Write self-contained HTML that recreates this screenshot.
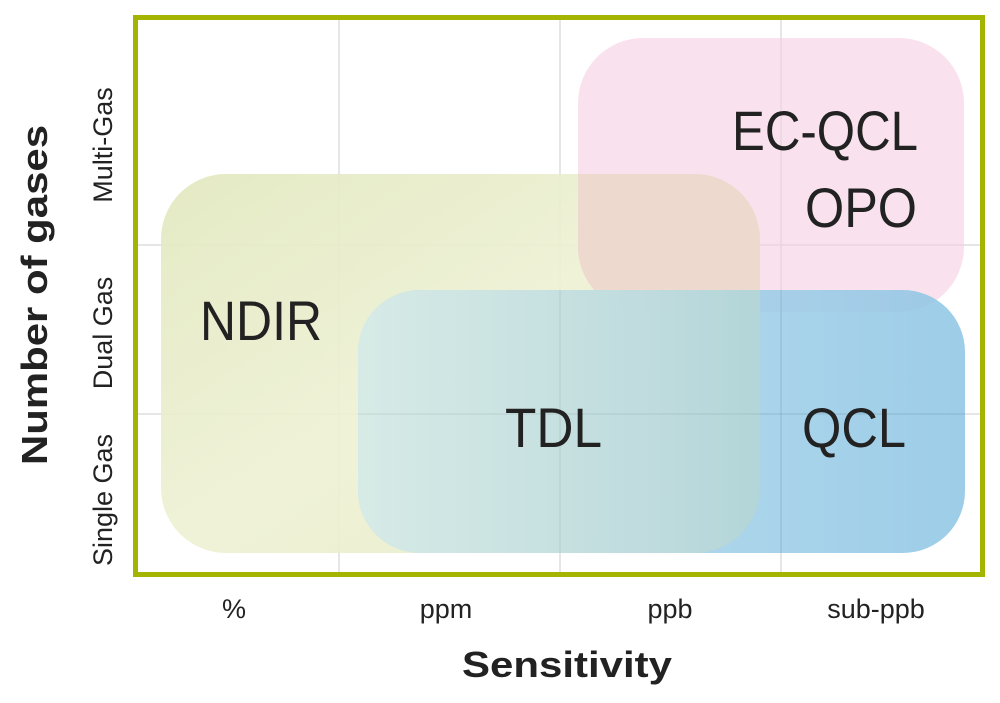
<!DOCTYPE html>
<html><head><meta charset="utf-8"><style>
body{margin:0;background:#fff}
</style></head><body>
<svg width="1000" height="698" viewBox="0 0 1000 698" xmlns="http://www.w3.org/2000/svg" font-family="Liberation Sans, sans-serif">
<defs>
<linearGradient id="g" x1="0" y1="0" x2="1" y2="1"><stop offset="0" stop-color="#e2e8bf"/><stop offset="0.5" stop-color="#eef1d4"/><stop offset="1" stop-color="#e6ebc4"/></linearGradient>
<linearGradient id="b" x1="0" y1="0" x2="1" y2="0"><stop offset="0" stop-color="#b5dcec"/><stop offset="1" stop-color="#8cc4e4"/></linearGradient>
<linearGradient id="t" x1="0" y1="0" x2="1" y2="0"><stop offset="0" stop-color="#d8ebe6"/><stop offset="0.5" stop-color="#bfdbdd"/><stop offset="1" stop-color="#9ccbcc"/></linearGradient>
<clipPath id="c"><rect x="161" y="174" width="599" height="379" rx="65"/></clipPath>
<clipPath id="p"><rect x="578" y="38" width="386" height="274" rx="65"/></clipPath>
</defs>
<g stroke="#dddddd" stroke-width="1.5">
<line x1="339" y1="17" x2="339" y2="577"/><line x1="560" y1="17" x2="560" y2="577"/><line x1="781" y1="17" x2="781" y2="577"/>
<line x1="136" y1="245" x2="983" y2="245"/><line x1="136" y1="414" x2="983" y2="414"/>
</g>
<rect x="161" y="174" width="599" height="379" rx="65" fill="url(#g)" opacity="0.92"/>
<rect x="578" y="38" width="386" height="274" rx="65" fill="#f5cfe2" opacity="0.6"/>
<g clip-path="url(#p)"><rect x="161" y="174" width="599" height="379" rx="65" fill="#ecd8cc" opacity="0.9" clip-path="url(#c)"/></g>
<rect x="358" y="290" width="607" height="263" rx="62" fill="url(#b)" opacity="0.85"/>
<rect x="358" y="290" width="607" height="263" rx="62" fill="url(#t)" clip-path="url(#c)" opacity="0.95"/>
<g stroke="#000" stroke-opacity="0.06" stroke-width="1.5">
<line x1="560" y1="290" x2="560" y2="553"/><line x1="781" y1="290" x2="781" y2="553"/><line x1="358" y1="414" x2="965" y2="414"/>
</g>
<rect x="135.5" y="17.5" width="847" height="557" fill="none" stroke="#a3b500" stroke-width="5"/>
<g fill="#222" font-size="56" font-weight="300">
<text x="200" y="340" textLength="122" lengthAdjust="spacingAndGlyphs">NDIR</text>
<text x="505" y="447" textLength="97" lengthAdjust="spacingAndGlyphs">TDL</text>
<text x="802" y="447" textLength="104" lengthAdjust="spacingAndGlyphs">QCL</text>
<text x="732" y="150" textLength="186" lengthAdjust="spacingAndGlyphs">EC-QCL</text>
<text x="805" y="227" textLength="112" lengthAdjust="spacingAndGlyphs">OPO</text>
</g>
<g fill="#222" font-size="27" text-anchor="middle">
<text x="234" y="618">%</text><text x="446" y="618">ppm</text><text x="670" y="618">ppb</text><text x="876" y="618">sub-ppb</text>
<text transform="translate(112,500) rotate(-90)">Single Gas</text>
<text transform="translate(112,333) rotate(-90)">Dual Gas</text>
<text transform="translate(112,145) rotate(-90)">Multi-Gas</text>
</g>
<text x="462" y="677" font-size="36" font-weight="bold" fill="#222" textLength="210" lengthAdjust="spacingAndGlyphs">Sensitivity</text>
<text transform="translate(47,465) rotate(-90)" font-size="36" font-weight="bold" fill="#222" textLength="340" lengthAdjust="spacingAndGlyphs">Number of gases</text>
</svg>
</body></html>
